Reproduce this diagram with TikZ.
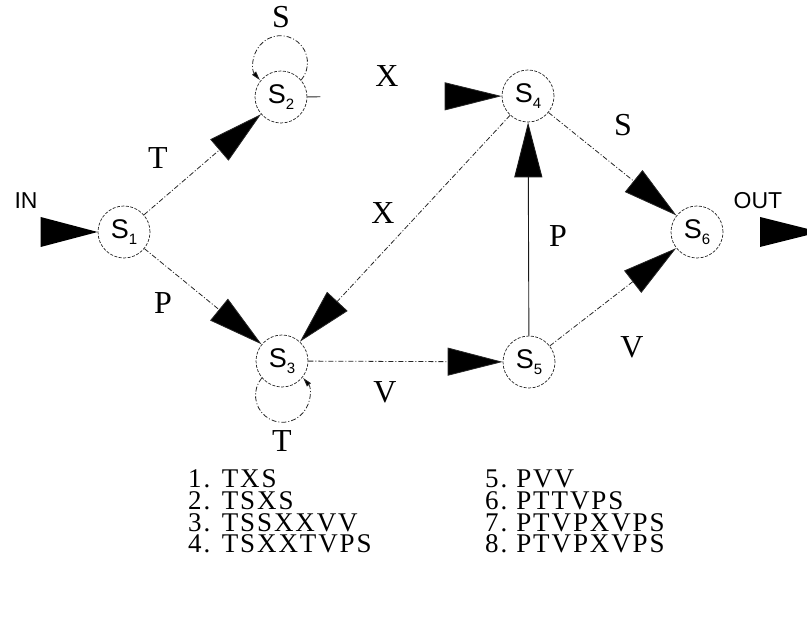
\documentclass[tikz,border=0pt]{standalone}
\usepackage{fontspec}
\setmainfont{Liberation Serif}
\newfontfamily\sansf{Liberation Sans}
\newfontfamily\listfont[LetterSpace=7]{Liberation Serif}
\usetikzlibrary{arrows.meta}
\newcommand\stlabel[1]{{\sansf\fontsize{27}{27}\selectfont S\raisebox{-0.22em}{\fontsize{15}{15}\selectfont #1}}}
\begin{document}
\begin{tikzpicture}[x=1pt,y=1pt,
  state/.style={circle,draw=black!85,line width=0.7pt,dash pattern=on 3pt off 1.5pt,minimum size=52pt,inner sep=0pt},
  bigtip/.style={-{Triangle[length=55pt,width=28pt,fill=black]}},
  trans/.style={draw=black!85,line width=0.8pt,dash pattern=on 5pt off 2pt on 1pt off 2pt,bigtip},
  solidtrans/.style={draw=black!90,line width=0.9pt,bigtip},
  loopst/.style={draw=black!85,line width=0.8pt,dash pattern=on 5pt off 2pt on 1pt off 2pt,-{Triangle[length=9pt,width=5pt,fill=black]}},
  elabel/.style={font=\fontsize{32}{32}\selectfont,inner sep=0pt},
  iolabel/.style={font=\sansf\fontsize{23}{23}\selectfont,inner sep=0pt},
  listitem/.style={font=\listfont\fontsize{27}{27}\selectfont,anchor=base west,inner sep=0pt}
]
\useasboundingbox (0,0) rectangle (807,619);
\clip (0,0) rectangle (807,619);

% states
\node[state] (S1) at (124,387) {\stlabel{1}};
\node[state] (S2) at (281,522) {\stlabel{2}};
\node[state] (S3) at (282,258) {\stlabel{3}};
\node[state] (S4) at (528,523) {\stlabel{4}};
\node[state] (S5) at (529,257) {\stlabel{5}};
\node[state] (S6) at (697,387) {\stlabel{6}};

% in / out
\coordinate (outA) at (760,387);
\node[iolabel] (inlbl) at (26,418) {IN};
\node[iolabel] (outlbl) at (758,418) {OUT};
\fill[black] (S1.west) -- ++(-57,15) -- ++(0,-30) -- cycle;
\fill[black] (outA) -- ++(0,15) -- ++(60,-15) -- ++(-60,-15) -- cycle;

% transitions
\draw[trans] (S1) -- (S2);
\draw[trans] (S1) -- (S3);
\draw[draw=black!85,line width=0.8pt,dash pattern=on 13pt off 1000pt,-{Triangle[length=57pt,width=28pt,fill=black]}] (S2) -- (S4);
\draw[trans] (S4) -- (S3);
\draw[trans] (S3) -- (S5);
\draw[solidtrans] (S5) -- (S4);
\draw[trans] (S4) -- (S6);
\draw[trans] (S5) -- (S6);

% loops
\draw[loopst] (S2.40) arc[start angle=-40,end angle=220,radius=27];
\draw[loopst] (S3.220) arc[start angle=140,end angle=400,radius=27];

% edge labels
\node[elabel] (lT1) at (158,461) {T};
\node[elabel] (lS2) at (281,602) {S};
\node[elabel] (lX1) at (387,543) {X};
\node[elabel] (lX2) at (383,406) {X};
\node[elabel] (lP1) at (163,316) {P};
\node[elabel] (lT3) at (282,178) {T};
\node[elabel] (lV1) at (385,227) {V};
\node[elabel] (lP2) at (558,383) {P};
\node[elabel] (lS4) at (623,494) {S};
\node[elabel] (lV2) at (632,272) {V};

% list
\node[listitem] (w1) at (188,131) {1. TXS};
\node[listitem] (w2) at (188,109) {2. TSXS};
\node[listitem] (w3) at (188,87) {3. TSSXXVV};
\node[listitem] (w4) at (188,66) {4. TSXXTVPS};
\node[listitem] (w5) at (485,131) {5.\hspace{9pt}PVV};
\node[listitem] (w6) at (485,109) {6.\hspace{9pt}PTTVPS};
\node[listitem] (w7) at (485,87) {7.\hspace{9pt}PTVPXVPS};
\node[listitem] (w8) at (485,66) {8.\hspace{9pt}PTVPXVPS};
\end{tikzpicture}
\end{document}
